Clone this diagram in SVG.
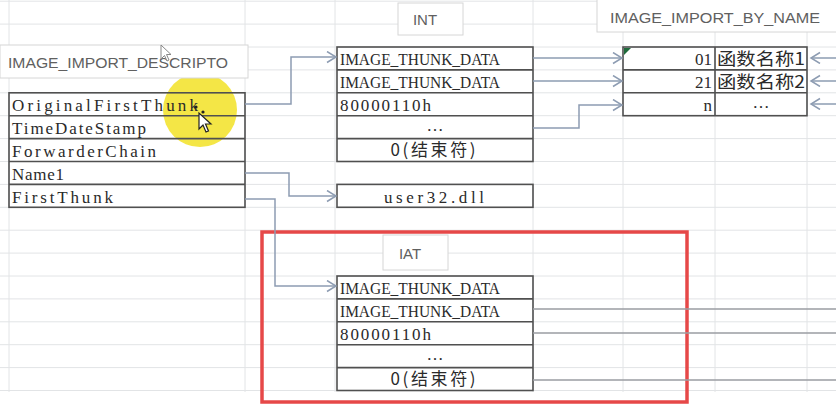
<svg xmlns="http://www.w3.org/2000/svg" width="836" height="408" viewBox="0 0 836 408">
<style>
.grid{stroke:#e2e4e6;stroke-width:1;fill:none}
.tbl{fill:none;stroke:#505050;stroke-width:1.6}
.cell{font-family:"Liberation Serif","Noto Sans CJK SC",serif;font-size:17px;fill:#2a2a2a}
.cjk{font-family:"Noto Sans CJK SC","Liberation Serif",serif;font-size:17px;fill:#2a2a2a}
.title{fill:#ffffff;stroke:#d6d6d6;stroke-width:1}
.ttext{font-family:"Liberation Sans","Noto Sans",sans-serif;font-size:15px;fill:#606060}
.conn{fill:none;stroke:#8d9cb2;stroke-width:1.5}
.gline{fill:none;stroke:#9a9da2;stroke-width:1.6}
</style>
<defs>
<marker id="arr" markerUnits="userSpaceOnUse" markerWidth="12" markerHeight="14" refX="10" refY="6" orient="auto">
<path d="M1,0.5 L10,6 L1,11.5" fill="none" stroke="#8d9cb2" stroke-width="1.5"/>
</marker>
</defs>
<rect x="0" y="0" width="836" height="408" fill="#ffffff"/>
<g id="grid">
<path class="grid" d="M9,0V392M245,0V392M335,0V392M533,0V392M623,0V392M715,0V392M807,0V392"/>
<path class="grid" d="M0,1.2H836M0,24.1H836M0,47H836M0,69.9H836M0,92.8H836M0,115.7H836M0,138.6H836M0,161.5H836M0,184.4H836M0,207.3H836M0,230.2H836M0,253.1H836M0,276H836M0,298.9H836M0,321.8H836M0,344.7H836M0,367.6H836M0,390.5H836"/>
</g>
<circle cx="200" cy="110" r="37" fill="#f2e22c" opacity="0.88"/>
<g id="descriptor-title">
<rect class="title" x="0" y="45" width="248" height="33"/>
<text class="ttext" x="8" y="68" textLength="220" lengthAdjust="spacingAndGlyphs">IMAGE_IMPORT_DESCRIPTO</text>
</g>
<g id="descriptor">
<rect class="tbl" x="9" y="92.8" width="236" height="114.5"/>
<path class="tbl" d="M9,115.7H245M9,138.6H245M9,161.5H245M9,184.4H245"/>
<text class="cell" x="12" y="111" textLength="186" lengthAdjust="spacing">OriginalFirstThunk</text>
<text class="cell" x="12" y="134" textLength="134" lengthAdjust="spacing">TimeDateStamp</text>
<text class="cell" x="12" y="157" textLength="144" lengthAdjust="spacing">ForwarderChain</text>
<text class="cell" x="12" y="180" textLength="52" lengthAdjust="spacing">Name1</text>
<text class="cell" x="12" y="203" textLength="101" lengthAdjust="spacing">FirstThunk</text>
</g>
<g id="int-title">
<rect class="title" x="398" y="3" width="65" height="32"/>
<text class="ttext" x="425" y="25" text-anchor="middle">INT</text>
</g>
<g id="int">
<rect class="tbl" x="337" y="47" width="196" height="114.5"/>
<path class="tbl" d="M337,69.9H533M337,92.8H533M337,115.7H533M337,138.6H533"/>
<text class="cell" x="340" y="65" textLength="160" lengthAdjust="spacingAndGlyphs">IMAGE_THUNK_DATA</text>
<text class="cell" x="340" y="88" textLength="160" lengthAdjust="spacingAndGlyphs">IMAGE_THUNK_DATA</text>
<text class="cell" x="340" y="111" textLength="91" lengthAdjust="spacing">80000110h</text>
<text class="cell" x="435" y="131" text-anchor="middle">…</text>
<text class="cjk" x="433" y="156" text-anchor="middle" textLength="85" lengthAdjust="spacing">0(结束符)</text>
</g>
<g id="dll-name">
<rect class="tbl" x="337" y="184.4" width="196" height="22.9"/>
<text class="cell" x="434" y="203" text-anchor="middle" textLength="100" lengthAdjust="spacing">user32.dll</text>
</g>
<g id="by-name-title">
<rect class="title" x="597" y="-1" width="245" height="33"/>
<text class="ttext" x="610" y="23" textLength="210" lengthAdjust="spacingAndGlyphs">IMAGE_IMPORT_BY_NAME</text>
</g>
<g id="by-name">
<rect class="tbl" x="623" y="47" width="184" height="68.7"/>
<path class="tbl" d="M623,69.9H807M623,92.8H807M715,47V115.7"/>
<polygon points="624,48 631,48 624,55" fill="#1f6b3c"/>
<text class="cell" x="712" y="65" text-anchor="end">01</text>
<text class="cell" x="712" y="88" text-anchor="end">21</text>
<text class="cell" x="712" y="111" text-anchor="end">n</text>
<text class="cjk" x="717" y="65" textLength="88" lengthAdjust="spacingAndGlyphs">函数名称1</text>
<text class="cjk" x="717" y="88" textLength="88" lengthAdjust="spacingAndGlyphs">函数名称2</text>
<text class="cell" x="761" y="108" text-anchor="middle">…</text>
</g>
<g id="iat-frame">
<rect x="262" y="232" width="425" height="170" fill="none" stroke="#e64848" stroke-width="3.5"/>
</g>
<g id="iat-title">
<rect class="title" x="383" y="235" width="65" height="35"/>
<text class="ttext" x="410" y="259" text-anchor="middle">IAT</text>
</g>
<g id="iat">
<rect class="tbl" x="337" y="276" width="196" height="114.5"/>
<path class="tbl" d="M337,298.9H533M337,321.8H533M337,344.7H533M337,367.6H533"/>
<text class="cell" x="340" y="294" textLength="160" lengthAdjust="spacingAndGlyphs">IMAGE_THUNK_DATA</text>
<text class="cell" x="340" y="317" textLength="160" lengthAdjust="spacingAndGlyphs">IMAGE_THUNK_DATA</text>
<text class="cell" x="340" y="340" textLength="91" lengthAdjust="spacing">80000110h</text>
<text class="cell" x="435" y="360" text-anchor="middle">…</text>
<text class="cjk" x="433" y="385" text-anchor="middle" textLength="85" lengthAdjust="spacing">0(结束符)</text>
</g>
<g id="connectors">
<path class="conn" d="M245,104H291V57H336" marker-end="url(#arr)"/>
<path class="conn" d="M245,173H289V196H336" marker-end="url(#arr)"/>
<path class="conn" d="M245,199H275V286H336" marker-end="url(#arr)"/>
<path class="conn" d="M533,58H622" marker-end="url(#arr)"/>
<path class="conn" d="M533,81H622" marker-end="url(#arr)"/>
<path class="conn" d="M533,128H579V105H622" marker-end="url(#arr)"/>
<path class="conn" d="M836,58H811" marker-end="url(#arr)"/>
<path class="conn" d="M836,81H811" marker-end="url(#arr)"/>
<path class="conn" d="M836,104H811" marker-end="url(#arr)"/>
<path class="gline" d="M533,309H836M533,333H836M533,380H836"/>
</g>
<g id="cursors">
<path d="M161,45 L161,59 L164.5,55.5 L167,61 L169,60 L166.5,54.5 L171,54.5 Z" fill="#ffffff" stroke="#888888" stroke-width="1"/>
<path d="M199,113 L199,129 L203,125 L206,132 L208.5,131 L205.5,124 L211,124 Z" fill="#ffffff" stroke="#222222" stroke-width="1.2"/>
<circle cx="196" cy="107" r="1.6" fill="#222"/>
<circle cx="203" cy="112" r="1.6" fill="#222"/>
</g>
</svg>
